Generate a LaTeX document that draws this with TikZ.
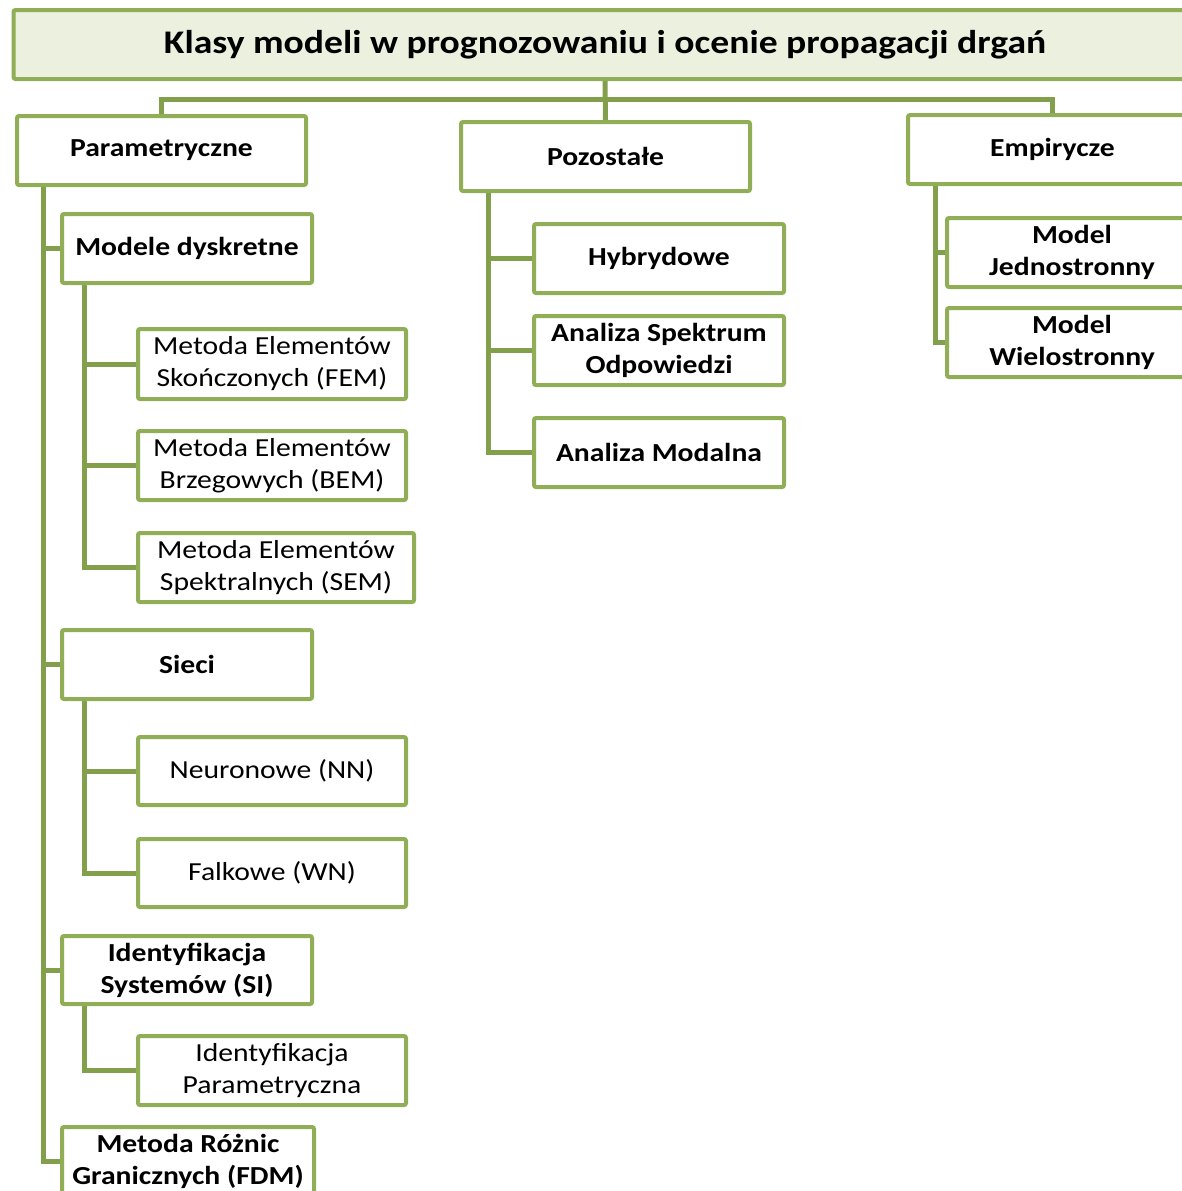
\documentclass[tikz,border=0pt]{standalone}
\usepackage{fontspec}
\setmainfont{Carlito}[FakeStretch=1.14]
\usepackage{tikz}
\usetikzlibrary{positioning,backgrounds}

\definecolor{boxgreen}{HTML}{8FAE55}
\definecolor{linkgreen}{HTML}{829F4B}
\definecolor{titlefill}{HTML}{EBF1DE}

\begin{document}
\begin{tikzpicture}[
    x=1pt, y=-1pt,
    basebox/.style={
        draw=boxgreen, fill=white,
        line width=4pt,
        rounded corners=2pt,
        align=center,
        inner sep=2pt,
        minimum height=69pt
    },
    topbox/.style={
        basebox, fill=titlefill,
        minimum width=1183pt,
        font=\bfseries\fontsize{33}{40}\selectfont
    },
    catbox/.style={
        basebox, minimum width=289pt,
        font=\bfseries\fontsize{26}{32}\selectfont
    },
    groupbox/.style={
        basebox, minimum width=250pt,
        font=\bfseries\fontsize{26}{32}\selectfont
    },
    leafbox/.style={
        basebox, minimum width=268pt,
        font=\fontsize{26}{32}\selectfont
    },
    link/.style={draw=linkgreen, line width=5pt}
]
\useasboundingbox (0,0) rectangle (1182,1191);
\clip (0,0) rectangle (1182,1191);

%% ── Title ─────────────────────────────────────────────
\node[topbox] (title) at (605,44.5)
    {Klasy modeli w prognozowaniu i ocenie propagacji drgań};

%% ── Main classes ──────────────────────────────────────
\node[catbox] (param) at (161.5,150.5) {Parametryczne};
\node[catbox] (pozo)  at (605.5,156.5) {Pozostałe};
\node[catbox] (empir) at (1052.5,149.5) {Empirycze};

%% ── Parametric models ─────────────────────────────────
\node[groupbox] (dysk) at (187,248.5) {Modele dyskretne};
\node[leafbox, minimum height=70pt] (fem) at (272,364)
    {Metoda Elementów\\Skończonych (FEM)};
\node[leafbox] (bem) at (272,465.5)
    {Metoda Elementów\\Brzegowych (BEM)};
\node[leafbox, minimum width=276pt] (sem) at (276,567.5)
    {Metoda Elementów\\Spektralnych (SEM)};

\node[groupbox] (sieci) at (187,664.5) {Sieci};
\node[leafbox, minimum height=68pt] (nn) at (272,771) {Neuronowe (NN)};
\node[leafbox, minimum height=68pt] (wn) at (272,873) {Falkowe (WN)};

\node[groupbox, minimum height=68pt] (ident) at (187,970)
    {Identyfikacja\\Systemów (SI)};
\node[leafbox] (ipar) at (272,1070.5)
    {Identyfikacja\\Parametryczna};

\node[groupbox, minimum width=252pt] (fdm) at (188,1161.5)
    {Metoda Różnic\\Granicznych (FDM)};

%% ── Other models ──────────────────────────────────────
\node[groupbox] (hyb)  at (659,258.5) {Hybrydowe};
\node[groupbox] (asp)  at (659,350.5) {Analiza Spektrum\\Odpowiedzi};
\node[groupbox] (amod) at (659,452.5) {Analiza Modalna};

%% ── Empirical models ──────────────────────────────────
\node[groupbox] (mjed) at (1072,252.5) {Model\\Jednostronny};
\node[groupbox] (mwie) at (1072,342.5) {Model\\Wielostronny};

%% ── Connectors ────────────────────────────────────────
\coordinate (bar) at (605,99);
\coordinate (ptrunk) at ([xshift=28pt]param.south west);
\coordinate (dtrunk) at ([xshift=24pt]dysk.south west);
\coordinate (strunk) at ([xshift=24pt]sieci.south west);
\coordinate (itrunk) at ([xshift=24pt]ident.south west);
\coordinate (otrunk) at ([xshift=29pt]pozo.south west);
\coordinate (etrunk) at ([xshift=29pt]empir.south west);

\begin{scope}[on background layer]
    \draw[link] (param.north) |- (bar) -| (empir.north);
    \draw[link] (title.south) -- (pozo.north);
    \foreach \n in {dysk,sieci,ident,fdm}
        \draw[link] (ptrunk) |- (\n.west);
    \foreach \n in {fem,bem,sem}
        \draw[link] (dtrunk) |- (\n.west);
    \foreach \n in {nn,wn}
        \draw[link] (strunk) |- (\n.west);
    \draw[link] (itrunk) |- (ipar.west);
    \foreach \n in {hyb,asp,amod}
        \draw[link] (otrunk) |- (\n.west);
    \foreach \n in {mjed,mwie}
        \draw[link] (etrunk) |- (\n.west);
\end{scope}

\end{tikzpicture}
\end{document}
